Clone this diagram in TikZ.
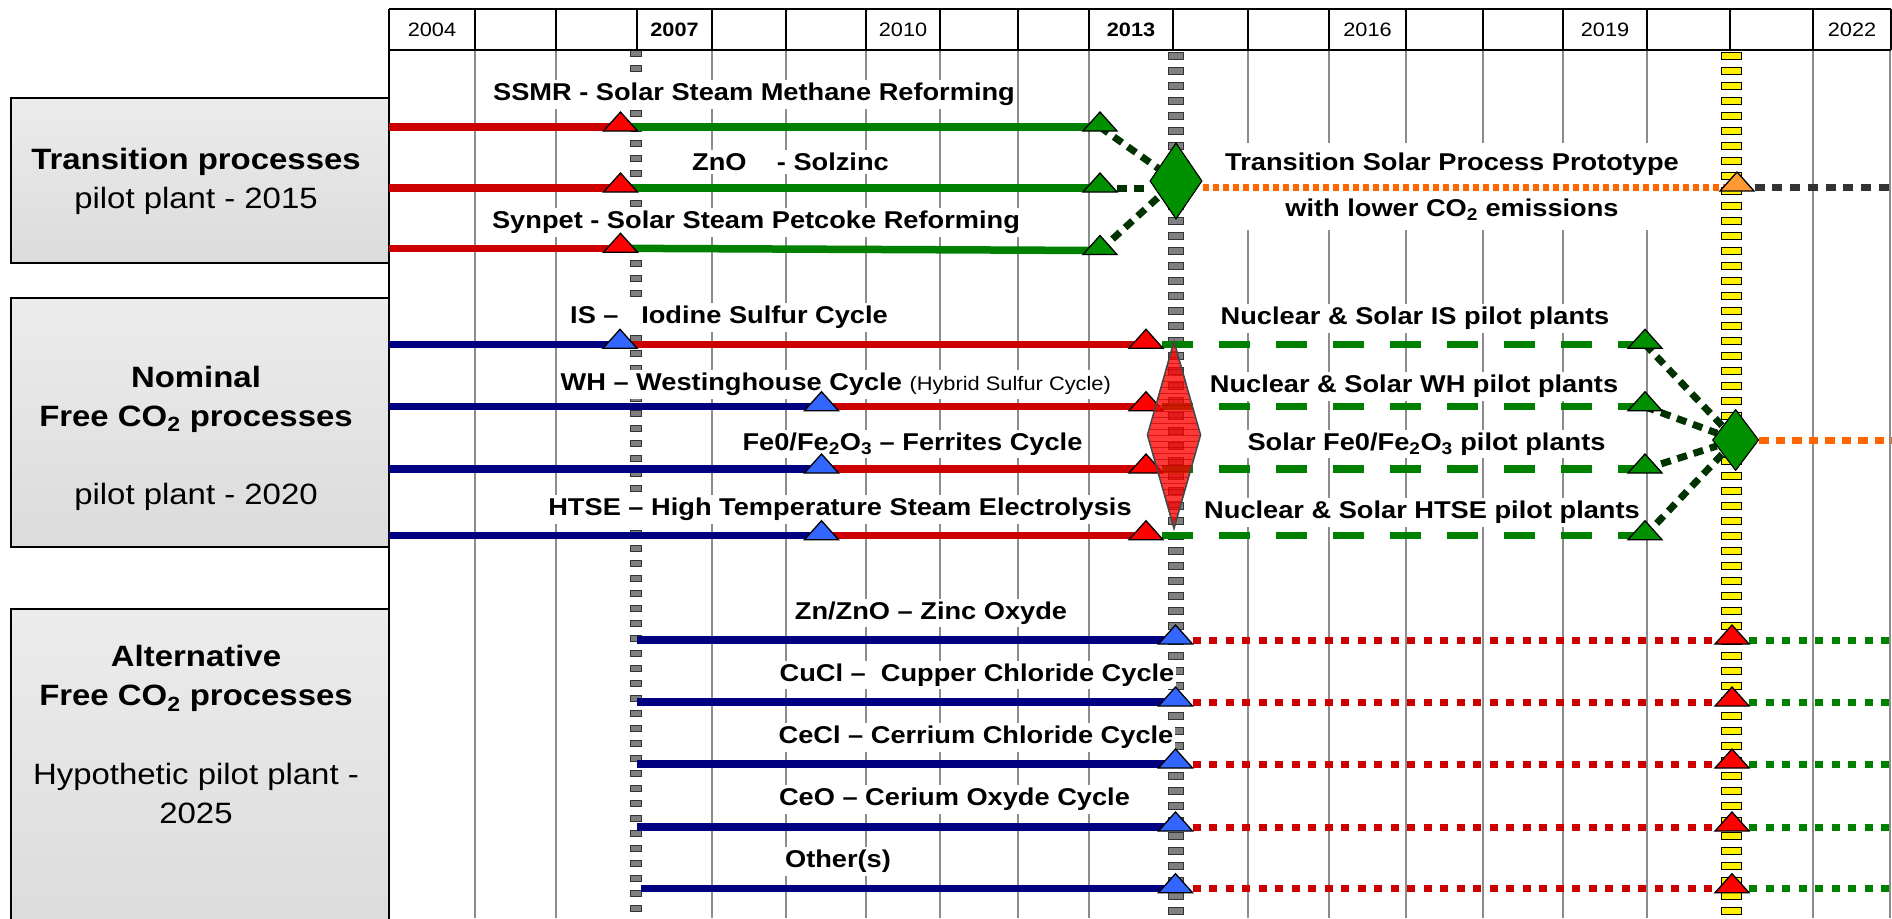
\documentclass[tikz,border=0pt]{standalone}
\usepackage{fontspec}
\setmainfont{Liberation Sans}[FakeStretch=1.12]
\usetikzlibrary{shapes.geometric,calc}
\definecolor{lred}{HTML}{CC0000}
\definecolor{tred}{HTML}{FF0000}
\definecolor{navy}{HTML}{000080}
\definecolor{tblue}{HTML}{3366FF}
\definecolor{lgreen}{HTML}{008000}
\definecolor{tgreen}{HTML}{009000}
\definecolor{dgreen}{HTML}{003300}
\definecolor{orng}{HTML}{FF6600}
\definecolor{torng}{HTML}{FF9933}
\definecolor{dgray}{HTML}{333333}
\definecolor{gridg}{HTML}{8C8C8C}
\newcommand\LblFont{\bfseries\fontsize{24.3}{29}\selectfont}
\newcommand\BoxFont{\fontsize{29.4}{39}\selectfont}
\newcommand\YearFont{\fontsize{19.4}{23}\selectfont}
\newcommand\tri[2]{\filldraw[tri,fill=#2] ($(#1)+(-17,4)$) -- ($(#1)+(17,4)$) -- ($(#1)+(0,-15)$) -- cycle;}
\tikzset{
  hdr/.style={draw=black,line width=2pt},
  gridln/.style={draw=gridg,line width=2pt},
  gsq/.style={fill=gray,draw=black!80,line width=0.9pt},
  ysq/.style={fill=yellow,draw=black,line width=0.9pt},
  year/.style={font=\YearFont,inner sep=0pt},
  catbox/.style={draw=black,line width=2pt,top color=gray!15,bottom color=gray!28,minimum width=378pt,inner sep=0pt},
  cattxt/.style={align=center,font=\BoxFont,inner sep=0pt},
  lbl/.style={fill=white,inner xsep=2pt,inner ysep=3pt,font=\LblFont,anchor=base},
  redln/.style={draw=lred,line width=7.5pt},
  greenln/.style={draw=lgreen,line width=7.5pt},
  navyln/.style={draw=navy,line width=7.5pt},
  gdash/.style={draw=lgreen,line width=7.5pt,dash pattern=on 31pt off 26pt},
  rdot/.style={draw=lred,line width=7pt,dash pattern=on 8pt off 8.5pt},
  gdot/.style={draw=lgreen,line width=7pt,dash pattern=on 8pt off 8.5pt},
  dgdot/.style={draw=dgreen,line width=7pt,dash pattern=on 10pt off 7pt},
  odot/.style={draw=orng,line width=7pt,dash pattern=on 6pt off 4pt},
  odotb/.style={draw=orng,line width=7pt,dash pattern=on 9.5pt off 7pt},
  kdot/.style={draw=dgray,line width=7pt,dash pattern=on 10pt off 7.7pt},
  tri/.style={draw=black,line width=1.3pt},
  dia/.style={diamond,draw=black,line width=1pt,inner sep=0pt},
}
\begin{document}
\begin{tikzpicture}[x=1pt,y=-1pt]
\useasboundingbox (0,0) rectangle (1892,918);
\clip (0,0) rectangle (1892,918);
% body grid
\foreach \x in {475,556,712,786,866,940,1018,1089,1248,1329,1406,1483,1563,1647,1813,1890}
  \draw[gridln] (\x,50) -- (\x,918);
\draw[hdr] (389,50) -- (389,918);
% dashed milestone columns
\foreach \k in {0,...,58} {
  \draw[gsq] (630.5,50.8+15*\k) rectangle ++(11,6);
  \draw[gsq] (1168,52.5+15*\k) rectangle ++(15,7);
  \draw[ysq] (1721,52.2+15*\k) rectangle ++(20,7);
}
% header
\fill[white] (389,9) rectangle (1891,50);
\draw[hdr] (389,9) -- (1891,9);
\draw[hdr] (389,50) -- (1891,50);
\foreach \x in {389,475,556,637,712,786,866,940,1018,1089,1173,1248,1329,1406,1483,1563,1647,1730,1813,1891}
  \draw[hdr] (\x,9) -- (\x,50);
\node[year] (y2004) at (432,30) {2004};
\node[year,font=\YearFont\bfseries] (y2007) at (674.5,30) {2007};
\node[year] (y2010) at (903,30) {2010};
\node[year,font=\YearFont\bfseries] (y2013) at (1131,30) {2013};
\node[year] (y2016) at (1367.5,30) {2016};
\node[year] (y2019) at (1605,30) {2019};
\node[year] (y2022) at (1852,30) {2022};
% category boxes
\node[catbox,minimum height=164.7pt] (boxT) at (200,180.35) {};
\node[catbox,minimum height=249pt] (boxN) at (200,422.5) {};
\node[catbox,minimum height=330pt] (boxA) at (200,774) {};
\node[cattxt] (tT) at (196,181.4) {\textbf{Transition processes}\\pilot plant - 2015};
\node[cattxt] (tN) at (196,438) {\textbf{Nominal}\\\textbf{Free CO\textsubscript{2} processes}\\[39pt]pilot plant - 2020};
\node[cattxt,font=\fontsize{29.4}{39.3}\selectfont] (tA) at (196,734.4) {\textbf{Alternative}\\\textbf{Free CO\textsubscript{2} processes}\\[39.3pt]Hypothetic pilot plant -\\2025};
% labels
\node[lbl] (lSSMR) at (754,100.7) {SSMR - Solar Steam Methane Reforming};
\node[lbl] (lZnO) at (790.5,170.4) {ZnO\ \ \ \ - Solzinc};
\node[lbl] (lSyn) at (756,228.7) {Synpet - Solar Steam Petcoke Reforming};
\node[lbl,anchor=center,align=center,inner ysep=10pt,font=\bfseries\fontsize{24.3}{46}\selectfont] (lProto) at (1452,186.6) {Transition Solar Process Prototype\\with lower CO\textsubscript{2} emissions};
\node[lbl] (lIS) at (729,323.7) {IS –\ \ \ Iodine Sulfur Cycle};
\node[lbl] (lWH) at (835.8,390.4) {WH – Westinghouse Cycle {\mdseries\fontsize{19.5}{23}\selectfont (Hybrid Sulfur Cycle)}};
\node[lbl] (lFe) at (912.5,450.4) {Fe0/Fe\textsubscript{2}O\textsubscript{3} – Ferrites Cycle};
\node[lbl] (lHT) at (840,515.4) {HTSE – High Temperature Steam Electrolysis};
\node[lbl] (lNIS) at (1415,324.7) {Nuclear \& Solar IS pilot plants};
\node[lbl] (lNWH) at (1414,392.7) {Nuclear \& Solar WH pilot plants};
\node[lbl] (lNFe) at (1426.5,450.4) {Solar Fe0/Fe\textsubscript{2}O\textsubscript{3} pilot plants};
\node[lbl] (lNHT) at (1422,518.7) {Nuclear \& Solar HTSE pilot plants};
\node[lbl] (lZn) at (931,619.4) {Zn/ZnO – Zinc Oxyde};
\node[lbl] (lCuCl) at (977,681.4) {CuCl –\ \ Cupper Chloride Cycle};
\node[lbl] (lCeCl) at (976,743.7) {CeCl – Cerrium Chloride Cycle};
\node[lbl] (lCeO) at (954.5,805.7) {CeO – Cerium Oxyde Cycle};
\node[lbl] (lOth) at (838,867.7) {Other(s)};
% coordinates: transition
\coordinate (sT1) at (389,127);   \coordinate (rT1) at (620.5,127);   \coordinate (gT1) at (1100,127);
\coordinate (sT2) at (389,188);   \coordinate (rT2) at (620.5,188);   \coordinate (gT2) at (1100,188);
\coordinate (sT3) at (389,248.3); \coordinate (rT3) at (620.5,248.3); \coordinate (gT3) at (1100,250.5);
\coordinate (oT) at (1737,187); \coordinate (eT) at (1892,187);
% nominal
\coordinate (sN1) at (389,344.3); \coordinate (bN1) at (620,344.3);   \coordinate (rN1) at (1146,344.3); \coordinate (gN1) at (1645,344.3);
\coordinate (sN2) at (389,406.7); \coordinate (bN2) at (821.5,406.7); \coordinate (rN2) at (1146,406.7); \coordinate (gN2) at (1645,406.7);
\coordinate (sN3) at (389,469);   \coordinate (bN3) at (821.5,469);   \coordinate (rN3) at (1146,469);   \coordinate (gN3) at (1645,469);
\coordinate (sN4) at (389,535.7); \coordinate (bN4) at (821.5,535.7); \coordinate (rN4) at (1146,535.7); \coordinate (gN4) at (1645,535.7);
\coordinate (eN) at (1892,440);
% alternative
\foreach \i/\y/\s in {1/640/637,2/702/637,3/764/637,4/827/637,5/888.7/641} {
  \coordinate (sA\i) at (\s,\y); \coordinate (bA\i) at (1175.5,\y);
  \coordinate (rA\i) at (1732,\y); \coordinate (eA\i) at (1892,\y);
}
% diamonds (positions)
\path (1176,181) node[dia,minimum width=52pt,minimum height=76pt] (d1) {};
\path (1735.6,440) node[dia,minimum width=46pt,minimum height=61pt] (d2) {};
% transition lines
\foreach \i in {1,2,3} {
  \draw[redln] (sT\i) -- (rT\i);
  \draw[greenln] (rT\i) -- (gT\i);
}
\draw[dgdot] (gT1) -- (d1);
\draw[dgdot] (gT2) -- (gT2 -| d1.west);
\draw[dgdot] (gT3) -- (d1);
\draw[odot] (d1.east |- oT) -- (oT);
\draw[kdot] (oT) -- (eT);
% nominal lines
\foreach \i in {1,2,3,4} {
  \draw[navyln] (sN\i) -- (bN\i);
  \draw[redln] (bN\i) -- (rN\i);
  \draw[gdash] ($(rN\i)+(16,0)$) -- (gN\i);
  \draw[dgdot] (gN\i) -- (d2);
}
\draw[odotb] (d2.east) -- (eN);
% alternative lines
\foreach \i in {1,...,5} {
  \draw[navyln] (sA\i) -- (bA\i);
  \draw[rdot] ($(bA\i)+(17,0)$) -- (rA\i);
  \draw[gdot] ($(rA\i)+(17,0)$) -- (eA\i);
}
% green diamonds
\node[dia,fill=tgreen,minimum width=52pt,minimum height=76pt] at (d1) {};
\node[dia,fill=tgreen,minimum width=46pt,minimum height=61pt] at (d2) {};
% triangles
\foreach \i in {1,2,3} {\tri{rT\i}{tred} \tri{gT\i}{tgreen}}
\tri{oT}{torng}
\foreach \i in {1,2,3,4} {\tri{bN\i}{tblue} \tri{rN\i}{tred} \tri{gN\i}{tgreen}}
\foreach \i in {1,...,5} {\tri{bA\i}{tblue} \tri{rA\i}{tred}}
% red translucent diamond over the nominal milestone
\node[dia,fill=red,fill opacity=0.78,draw=none,minimum width=52pt,minimum height=186pt] (d3) at (1174,435) {};
\begin{scope}
  \clip (d3.north) -- (d3.east) -- (d3.south) -- (d3.west) -- cycle;
  \foreach \k in {0,...,31}
    \draw[draw=red!75!black,line width=0.7pt,opacity=0.6] (1140,345+6*\k) -- (1210,345+6*\k);
\end{scope}
\draw[draw=black!72,line width=1.6pt,line join=miter] (d3.north) -- (d3.east) -- (d3.south) -- (d3.west) -- cycle;
\end{tikzpicture}
\end{document}
